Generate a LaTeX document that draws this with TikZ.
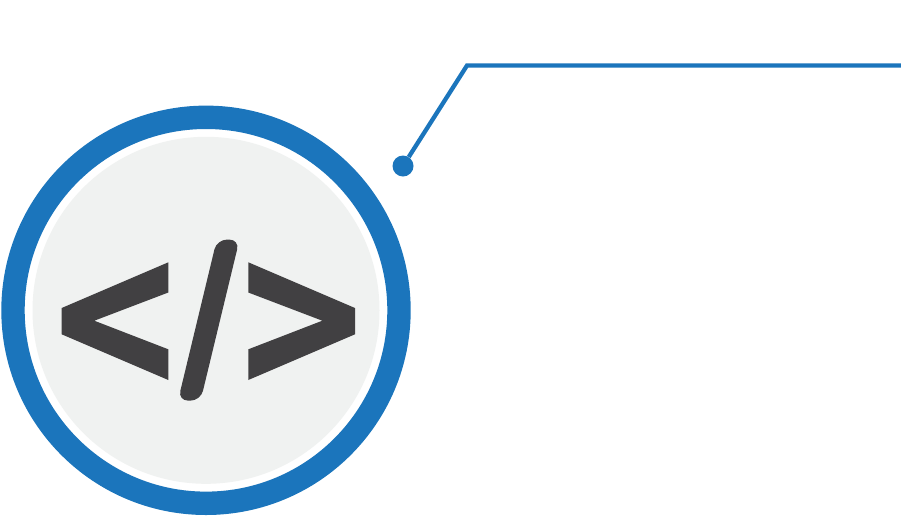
\documentclass[tikz,border=0pt]{standalone}
\usepackage{tikz}
\usetikzlibrary{positioning}
\definecolor{leadblue}{HTML}{1B75BC}
\definecolor{discgrey}{HTML}{F0F2F1}
\definecolor{glyphdark}{HTML}{414042}
\tikzset{>=latex}

\begin{document}
\begin{tikzpicture}[x=1pt,y=-1pt,
	ring/.style={circle, draw=leadblue, line width=23.4pt, fill=white, inner sep=0pt, minimum size=386pt},
	disc/.style={circle, fill=discgrey, inner sep=0pt, minimum size=347pt},
	dot/.style={circle, fill=leadblue, inner sep=0pt, minimum size=21pt},
	lead/.style={leadblue, line width=4.3pt, line join=miter},
	glyph/.style={fill=glyphdark, draw=none}]
	\useasboundingbox (0,0) rectangle (901,515);
	\node[ring] (outer) at (206,310.3) {};
	\node[disc] (inner) at (outer.center) {};
	\node[dot] (pin) at (403,166) {};
	\coordinate (bend) at (467,65.5);
	\coordinate (tail) at (901,65.5);
	\draw[lead] (pin) -- (bend) -- (tail);
	\fill[glyph] (61.7,308) -- (168.3,262.3) -- (168.3,292.5) -- (94.3,320.7) -- (168.3,349.3) -- (168.3,380) -- (61.7,334.3) -- cycle;
	\fill[glyph] (355,308) -- (248.3,262.3) -- (248.3,292.5) -- (322.3,320.7) -- (248.3,349.3) -- (248.3,380) -- (355,334.3) -- cycle;
	\fill[glyph, rounded corners=10pt] (216.8,239.6) -- (239.5,239.6) -- (200.6,400.6) -- (178,400.6) -- cycle;
\end{tikzpicture}
\end{document}
